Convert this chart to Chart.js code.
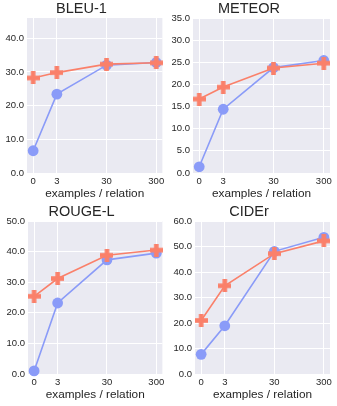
<!DOCTYPE html>
<html>
<head>
<meta charset="utf-8">
<script src="https://cdn.jsdelivr.net/npm/chart.js@4.4.1/dist/chart.umd.min.js"></script>
<style>
body{margin:0;background:#fff;}
.box{position:absolute;}
</style>
</head>
<body>
<div class="box" style="left:0;top:0;width:168px;height:201px"><canvas id="c0"></canvas></div>
<div class="box" style="left:168px;top:0;width:169px;height:201px"><canvas id="c1"></canvas></div>
<div class="box" style="left:0;top:203px;width:168px;height:199px"><canvas id="c2"></canvas></div>
<div class="box" style="left:168px;top:203px;width:169px;height:199px"><canvas id="c3"></canvas></div>
<script>
// examples per relation (x axis)
const examples = [0, 3, 30, 300];
const metricNames = ['BLEU-1', 'METEOR', 'ROUGE-L', 'CIDEr'];

// orange "+" series
const bleuCross = [28.2, 29.8, 32.3, 32.7];
const meteorCross = [16.7, 19.4, 23.7, 24.8];
const rougeCross = [25.4, 31.2, 38.8, 40.5];
const ciderCross = [21.0, 34.6, 47.2, 52.2];

// blue circle series
const bleuCircle = [6.6, 23.4, 32.0, 32.8];
const meteorCircle = [1.4, 14.4, 23.8, 25.4];
const rougeCircle = [1.0, 23.2, 37.3, 39.5];
const ciderCircle = [7.7, 18.9, 48.1, 53.6];

const yMaxes = [46, 35, 50, 60];
const ySteps = [10, 5, 10, 10];

const crossSeries = [bleuCross, meteorCross, rougeCross, ciderCross];
const circleSeries = [bleuCircle, meteorCircle, rougeCircle, ciderCircle];

const orange = 'rgb(250,128,106)';
const blue = 'rgb(138,155,248)';
const font = 'Liberation Sans, Arial, sans-serif';

// panel geometry: y axis width, right padding, x axis height
const panels = [
    {yw: 27, pr: 5, xh: 28},
    {yw: 25, pr: 7, xh: 28},
    {yw: 28, pr: 5, xh: 28},
    {yw: 27, pr: 7, xh: 28}
];

// thick plus marker
function makePlus(){
    const s = 13, t = 4.6;
    const c = document.createElement('canvas');
    c.width = s; c.height = s;
    const g = c.getContext('2d');
    g.fillStyle = orange;
    g.fillRect(0, (s - t) / 2, s, t);
    g.fillRect((s - t) / 2, 0, t, s);
    return c;
}
const plus = makePlus();

const xPos = examples.map(n => n > 0 ? Math.log10(n) : 0);
const xSpan = xPos[xPos.length - 1] - xPos[0];

const bgPlugin = {
    id: 'bg',
    beforeDraw(chart){
        const a = chart.chartArea, ctx = chart.ctx;
        ctx.save();
        ctx.fillStyle = '#EAEAF2';
        ctx.fillRect(a.left, a.top, a.right - a.left, a.bottom - a.top);
        ctx.restore();
    }
};

function createChart(i){
    const p = panels[i];
    const toPts = arr => arr.map((v, k) => ({x: xPos[k], y: v}));
    new Chart(document.getElementById('c' + i), {
        type: 'line',
        data: {
            datasets: [{
                data: toPts(crossSeries[i]),
                borderColor: orange,
                borderWidth: 1.6,
                pointStyle: plus,
                clip: false
            }, {
                data: toPts(circleSeries[i]),
                borderColor: blue,
                borderWidth: 1.6,
                pointStyle: 'circle',
                pointRadius: 5.4,
                pointBackgroundColor: blue,
                pointBorderWidth: 0,
                clip: false
            }]
        },
        options: {
            responsive: true,
            maintainAspectRatio: false,
            animation: false,
            layout: {padding: {left: 0, right: p.pr, top: 0, bottom: 0}},
            plugins: {
                legend: {display: false},
                tooltip: {enabled: false},
                title: {
                    display: true,
                    text: metricNames[i],
                    color: '#262626',
                    font: {family: font, size: 14.5, weight: 'normal', lineHeight: '18px'},
                    padding: 0
                }
            },
            scales: {
                x: {
                    type: 'linear',
                    min: xPos[0] - xSpan * 0.05,
                    max: xPos[xPos.length - 1] + xSpan * 0.05,
                    afterBuildTicks: s => { s.ticks = xPos.map(v => ({value: v})); },
                    afterFit: s => { s.height = p.xh; },
                    ticks: {
                        callback: (v, k) => String(examples[k]),
                        color: '#262626',
                        font: {family: font, size: 9.5},
                        padding: 3,
                        maxRotation: 0
                    },
                    grid: {color: '#ffffff', lineWidth: 1, drawTicks: false},
                    border: {display: false},
                    title: {
                        display: true,
                        text: 'examples / relation',
                        color: '#262626',
                        font: {family: font, size: 11.8},
                        padding: 0
                    }
                },
                y: {
                    min: 0,
                    max: yMaxes[i],
                    afterBuildTicks: s => {
                        s.ticks = s.ticks.filter(t => Math.abs(t.value / ySteps[i] - Math.round(t.value / ySteps[i])) < 1e-6);
                    },
                    afterFit: s => { s.width = p.yw; },
                    ticks: {
                        stepSize: ySteps[i],
                        callback: v => v.toFixed(1),
                        color: '#262626',
                        font: {family: font, size: 9.5},
                        padding: 3
                    },
                    grid: {color: '#ffffff', lineWidth: 1, drawTicks: false},
                    border: {display: false}
                }
            }
        },
        plugins: [bgPlugin]
    });
}

for (let i = 0; i < 4; i++) createChart(i);
</script>
</body>
</html>
